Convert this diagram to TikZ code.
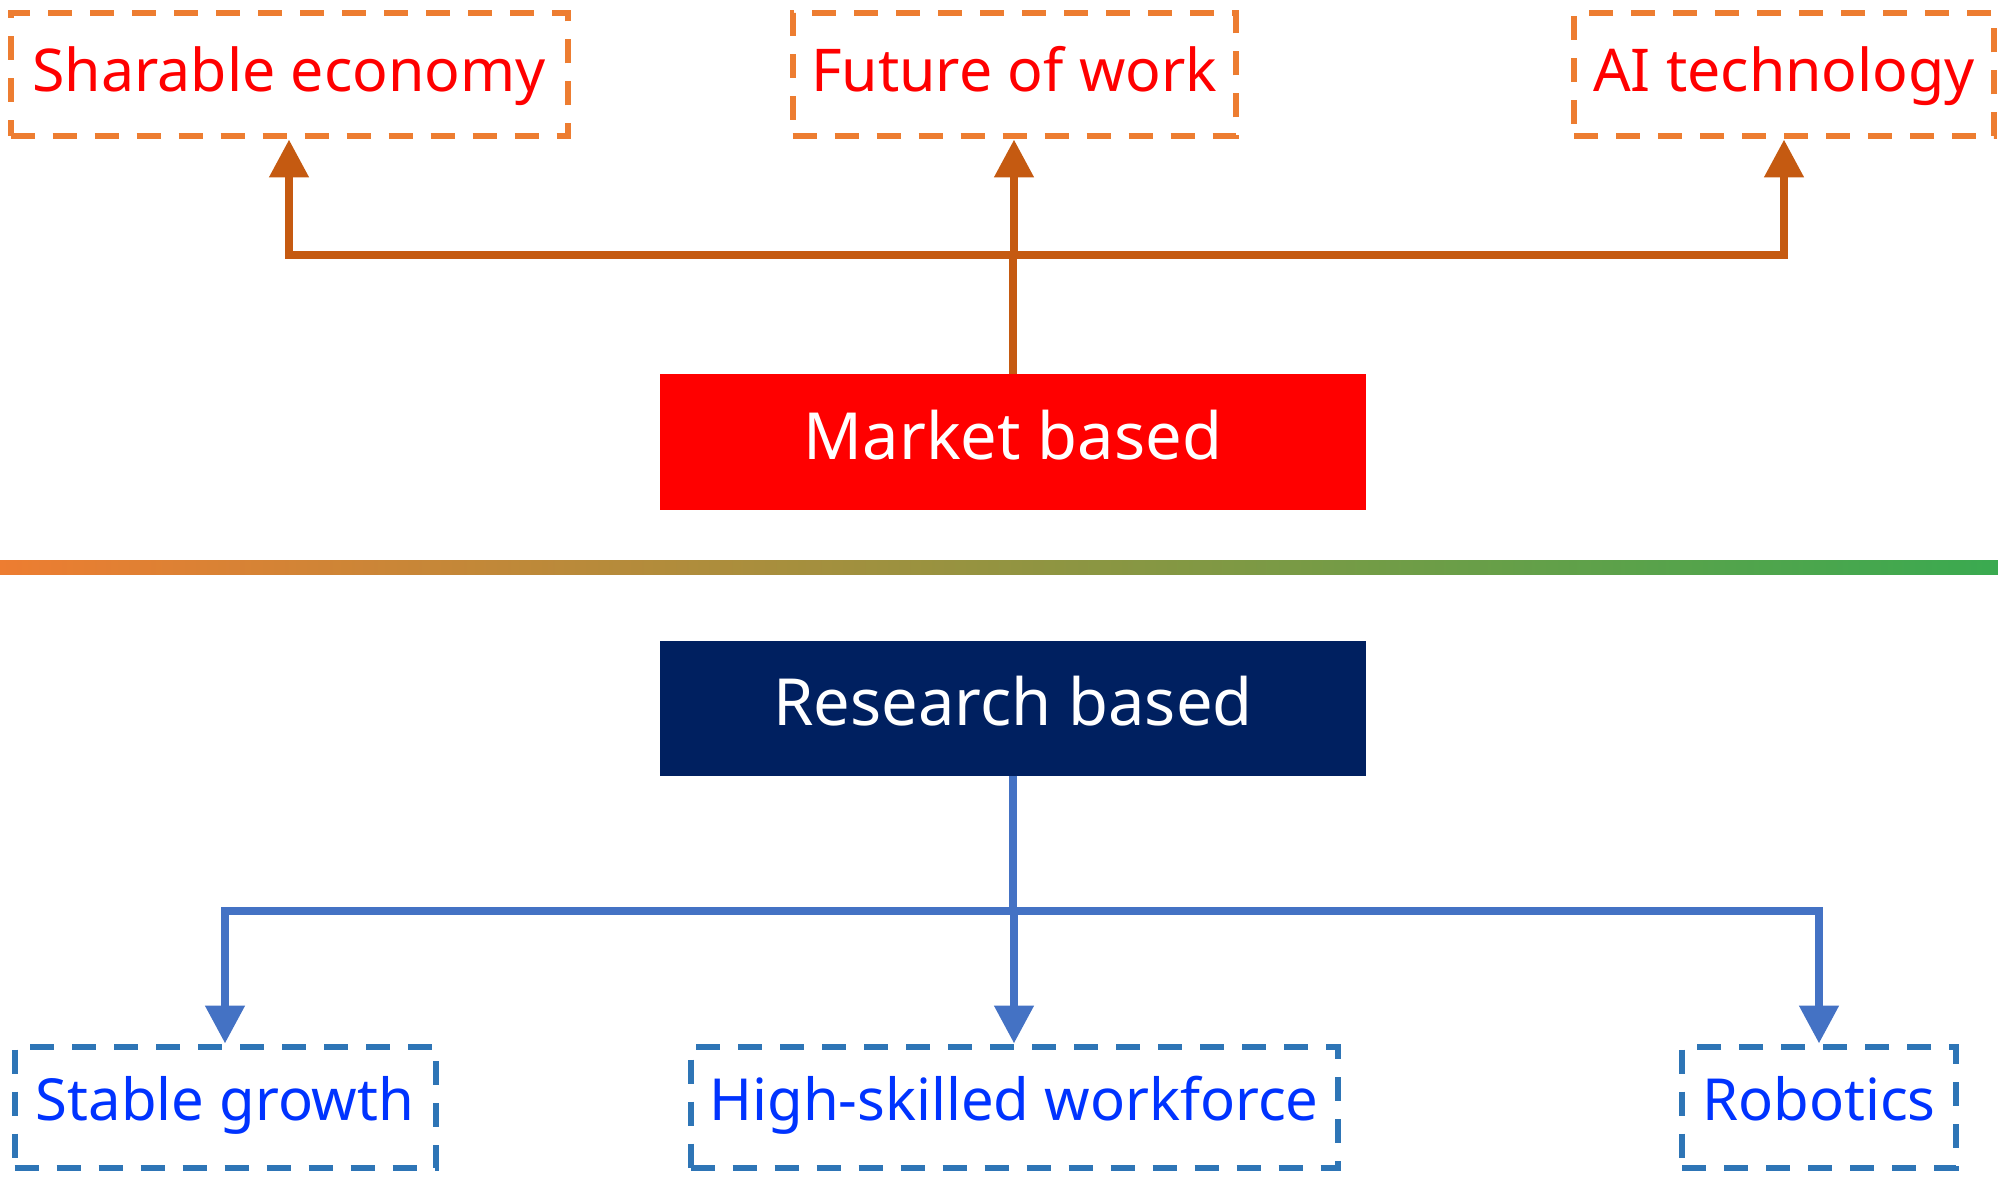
\documentclass[tikz,border=0pt]{standalone}
\usepackage{fontspec}
\setmainfont{Noto Sans}
\usetikzlibrary{arrows.meta}
\definecolor{boxorange}{RGB}{237,125,49}
\definecolor{connorange}{RGB}{197,90,17}
\definecolor{boxblue}{RGB}{46,117,182}
\definecolor{connblue}{RGB}{68,114,196}
\definecolor{txtblue}{RGB}{0,51,255}
\definecolor{navy}{RGB}{0,32,96}
\definecolor{lineleft}{RGB}{237,125,49}
\definecolor{lineright}{RGB}{58,170,80}
\tikzset{
  lbl/.style={inner sep=0pt, align=center},
  topbox/.style={lbl, font=\fontsize{59}{64}\selectfont, text height=44pt, text depth=10pt,
    draw=boxorange, line width=6pt, dash pattern=on 24pt off 18pt, text=red},
  botbox/.style={lbl, font=\fontsize{58}{64}\selectfont, text height=42pt, text depth=16pt,
    draw=boxblue, line width=6pt, dash pattern=on 24pt off 18pt, text=txtblue},
  mainbox/.style={lbl, font=\fontsize{65}{70}\selectfont, text height=50pt, text depth=16pt,
    text=white, minimum width=706pt, minimum height=135pt},
  oconn/.style={draw=connorange, line width=8pt},
  bconn/.style={draw=connblue, line width=8pt},
  otip/.style={-{Triangle[width=38pt,length=38pt]}},
}
\begin{document}
\begin{tikzpicture}[x=1pt,y=-1pt]
\useasboundingbox (0,0) rectangle (1998,1182);
% top boxes
\node[topbox, minimum width=557pt, minimum height=123pt] (se) at (289,75) {Sharable economy};
\node[topbox, minimum width=443pt, minimum height=123pt] (fw) at (1014,75) {Future of work};
\node[topbox, minimum width=420pt, minimum height=123pt] (ai) at (1784,75) {AI technology};
% main boxes
\node[mainbox, fill=red] (mk) at (1013,442) {Market based};
\node[mainbox, fill=navy] (rb) at (1013,708) {Research based};
% bottom boxes
\node[botbox, minimum width=421pt, minimum height=121pt] (sg) at (225,1107) {Stable growth};
\node[botbox, minimum width=647pt, minimum height=121pt] (hs) at (1014,1107) {High-skilled workforce};
\node[botbox, minimum width=274pt, minimum height=121pt] (ro) at (1819,1107) {Robotics};
% gradient separator
\shade[left color=lineleft, right color=lineright] (0,560) rectangle (1998,574);
% top connectors
\coordinate (tj) at (1013,255);
\draw[oconn] (mk.north) -- (tj);
\draw[oconn, otip] (tj) -| (se.south);
\draw[oconn, otip] (tj) -| (ai.south);
\draw[oconn, otip] (fw.south |- tj) -- (fw.south);
% bottom connectors
\coordinate (bj) at (1013,911);
\draw[bconn] (rb.south) -- (bj);
\draw[bconn, otip] (bj) -| (sg.north);
\draw[bconn, otip] (bj) -| (ro.north);
\draw[bconn, otip] (hs.north |- bj) -- (hs.north);
\end{tikzpicture}
\end{document}
